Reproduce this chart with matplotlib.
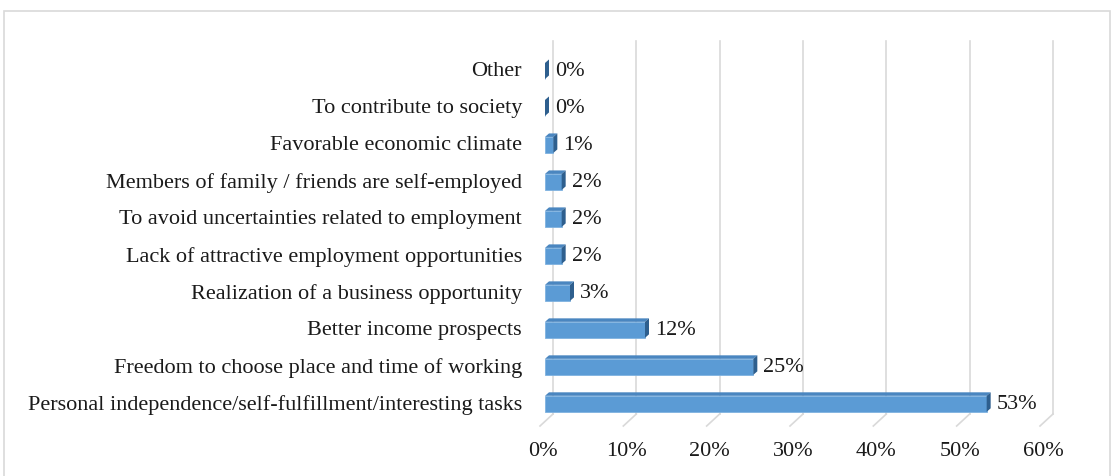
import matplotlib.pyplot as plt
from matplotlib.patches import Polygon, Rectangle
import numpy as np

categories = [
    "Personal independence/self-fulfillment/interesting tasks",
    "Freedom to choose place and time of working",
    "Better income prospects",
    "Realization of a business opportunity",
    "Lack of attractive employment opportunities",
    "To avoid uncertainties related to employment",
    "Members of family / friends are self-employed",
    "Favorable economic climate",
    "To contribute to society",
    "Other",
]
values = [53, 25, 12, 3, 2, 2, 2, 1, 0, 0]
ticks = [0, 10, 20, 30, 40, 50, 60]
tick_labels = ["0%", "10%", "20%", "30%", "40%", "50%", "60%"]

W, H = 1112, 477
fig = plt.figure(figsize=(W / 100, H / 100), dpi=100)
plt.rcParams['font.family'] = ['Liberation Serif', 'DejaVu Serif']
fs = 16

# outer frame
fig.patches.append(Rectangle((4 / W, -0.1), 1106 / W, 1.1 - 12 / H, transform=fig.transFigure,
                             fill=False, edgecolor='#d9d9d9', lw=1.2))

# axes: x range 0..60 from px 540 to 1040 (front floor edge), y floor at 427, top 42
x0, x1 = 540, 1040
ytop, ybot = 42, 427
ylo, yhi = -0.6, 9.81
ax = fig.add_axes([x0 / W, 1 - ybot / H, (x1 - x0) / W, (ybot - ytop) / H])
ax.set_xlim(0, 60)
ax.set_ylim(ylo, yhi)
ax.axis('off')

px = 60 / (x1 - x0)            # data units per pixel, x
py = (yhi - ylo) / (ybot - ytop)  # data units per pixel, y

# back wall gridlines and floor slants
gdx, gdy = 13, 12
for t in ticks:
    ax.plot([t + gdx * px, t + gdx * px], [ylo + gdy * py, yhi], color='#d9d9d9',
            lw=1.2, clip_on=False, zorder=1)
    ax.plot([t, t + gdx * px], [ylo, ylo + gdy * py], color='#d9d9d9', lw=1.2,
            clip_on=False, zorder=1)

# bars with 3D side and top faces
bh = 16 * py
off = 5 * px
ddx, ddy = 4 * px, 3.5 * py
for i, v in enumerate(values):
    xs = off
    xe = off + v
    yb = i - bh / 2
    yt = i + bh / 2
    ax.add_patch(Rectangle((xs, yb), v, bh, facecolor='#5b9bd5', edgecolor='#7fb2e0',
                           lw=0.6, zorder=3))
    ax.add_patch(Polygon([(xs, yt), (xe, yt), (xe + ddx, yt + ddy), (xs + ddx, yt + ddy)],
                         closed=True, facecolor='#4a86c0', edgecolor='none', zorder=3))
    ax.add_patch(Polygon([(xe, yb), (xe, yt), (xe + ddx, yt + ddy), (xe + ddx, yb + ddy)],
                         closed=True, facecolor='#2e5f8e', edgecolor='none', zorder=3))
    ax.text(xe + 10 * px, i, f"{v}%", ha='left', va='center', fontsize=fs, color='#1a1a1a')
    ax.text(-18 * px, i, categories[i], ha='right', va='center', fontsize=fs, color='#1a1a1a')

for t, lab in zip(ticks, tick_labels):
    ax.text(t + 3 * px, ylo - 25 * py, lab, ha='center', va='center', fontsize=fs,
            color='#1a1a1a')

fig.savefig('out.png', dpi=100)
